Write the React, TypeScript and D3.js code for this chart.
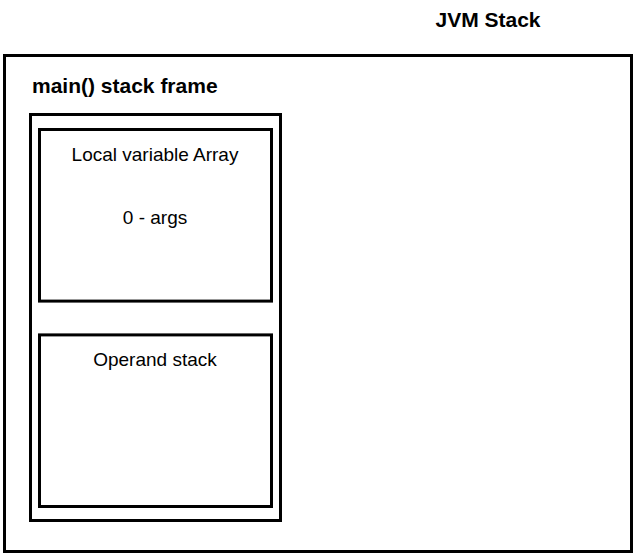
import React from "react";
import * as d3 from "d3";

const title = "JVM Stack";
const frameLabel = "main() stack frame";
const boxTitles = ["Local variable Array", "Operand stack"];
const boxContents = [["0 - args"], []];

export default function App() {
  const y = d3.scaleBand().domain(boxTitles).range([128, 508]).paddingInner(0.15);
  const font = "'Liberation Sans', Arial, Helvetica, sans-serif";
  return (
    <svg width={635} height={555} style={{ position: "absolute", left: 0, top: 0, background: "#fff" }} fontFamily={font}>
      <rect x={0} y={0} width={635} height={555} fill="#fff" />
      <text x={488} y={27} textAnchor="middle" fontWeight="bold" fontSize={21}>{title}</text>
      <rect x={4.5} y={55.5} width={627} height={496} fill="none" stroke="#000" strokeWidth={3} />
      <text x={32} y={93} fontWeight="bold" fontSize={21}>{frameLabel}</text>
      <rect x={30.5} y={114.5} width={250} height={406} fill="none" stroke="#000" strokeWidth={3} />
      {boxTitles.map((t, i) => {
        const y0 = y(t)!;
        return (
          <g key={t}>
            <rect x={39.5} y={y0 + 1.5} width={232} height={y.bandwidth() - 3} fill="none" stroke="#000" strokeWidth={3} />
            <text x={155} y={y0 + 33} textAnchor="middle" fontSize={19}>{t}</text>
            {boxContents[i].map((c, j) => (
              <text key={c} x={155} y={y0 + 96 + j * 24} textAnchor="middle" fontSize={19}>{c}</text>
            ))}
          </g>
        );
      })}
    </svg>
  );
}
